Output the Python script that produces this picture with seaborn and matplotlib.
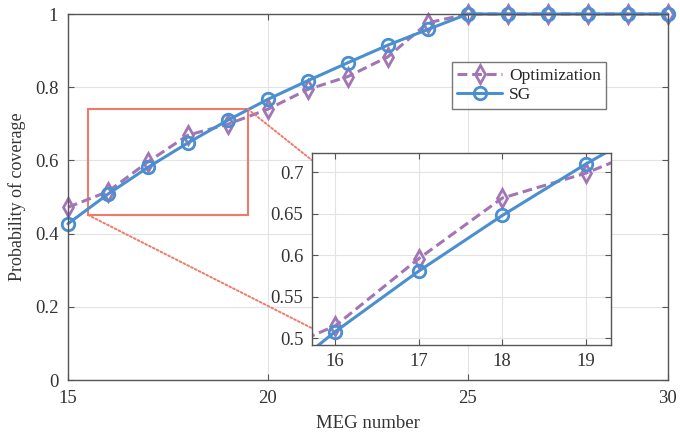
import numpy as np
import pandas as pd
import matplotlib
matplotlib.use("Agg")
import matplotlib.pyplot as plt
import seaborn as sns
from matplotlib.patches import Rectangle, ConnectionPatch

meg = [15, 16, 17, 18, 19, 20, 21, 22, 23, 24, 25, 26, 27, 28, 29, 30]
optimization = [0.472, 0.515, 0.596, 0.669, 0.699, 0.740, 0.794, 0.829, 0.883, 0.976,
                1.0, 1.0, 1.0, 1.0, 1.0, 1.0]
sg = [0.427, 0.508, 0.581, 0.648, 0.710, 0.767, 0.818, 0.867, 0.915, 0.958,
      1.0, 1.0, 1.0, 1.0, 1.0, 1.0]
series_names = ["Optimization", "SG"]
x_ticks = [15, 20, 25, 30]
y_ticks = [0, 0.2, 0.4, 0.6, 0.8, 1.0]
inset_x_ticks = [16, 17, 18, 19]
inset_y_ticks = [0.5, 0.55, 0.6, 0.65, 0.7]

sns.set_theme(style="whitegrid")
plt.rcParams["font.family"] = ["Liberation Serif", "DejaVu Serif"]

purple = "#A275B5"
blue = "#4A8FD0"
red = "#F07A6A"

fig = plt.figure(figsize=(6.8, 4.38), dpi=100)
ax = fig.add_axes([0.1, 0.1324, 0.882, 0.8356])

def draw(a, ms, lw, clip):
    sns.lineplot(x=meg, y=optimization, ax=a, color=purple, lw=lw, marker="d",
                 markersize=ms, markerfacecolor="none", markeredgecolor=purple,
                 markeredgewidth=2.0, label=series_names[0], clip_on=clip)
    a.lines[-1].set_linestyle((0, (3.2, 1.6)))
    sns.lineplot(x=meg, y=sg, ax=a, color=blue, lw=lw, marker="o",
                 markersize=ms, markerfacecolor="none", markeredgecolor=blue,
                 markeredgewidth=2.0, label=series_names[1], clip_on=clip)

def style_axes(a, fs, pad):
    a.set_facecolor("white")
    for s in a.spines.values():
        s.set_color("#555555")
        s.set_linewidth(1.0)
        s.set_visible(True)
    a.grid(True, color="#E3E3E3", lw=0.8)
    a.tick_params(direction="in", length=4, width=0.8, colors="#555555",
                  labelcolor="#333333", labelsize=fs, top=True, right=True,
                  bottom=True, left=True, pad=pad)

draw(ax, 9, 2.2, False)
ax.set_xlim(15, 30)
ax.set_ylim(0, 1)
ax.set_xticks(x_ticks)
ax.set_yticks(y_ticks)
ax.set_yticklabels(["0", "0.2", "0.4", "0.6", "0.8", "1"])
style_axes(ax, 13.5, 7)
ax.set_xlabel("MEG number", fontsize=13.5, color="#333333", labelpad=6)
ax.set_ylabel("Probability of coverage", fontsize=13, color="#333333", labelpad=6)

leg = ax.legend(loc="upper left", bbox_to_anchor=(0.64, 0.868), fontsize=12.5,
                frameon=True, fancybox=False, edgecolor="#555555",
                handlelength=2.6, borderpad=0.3, labelspacing=0.2,
                handletextpad=0.4, borderaxespad=0)
leg.get_frame().set_linewidth(1.0)
leg.set_zorder(10)

rect = Rectangle((15.5, 0.451), 4.0, 0.289, fill=False, edgecolor=red, lw=1.5, zorder=1.5)
ax.add_patch(rect)

ax_in = fig.add_axes([0.4584, 0.2123, 0.440, 0.439])
draw(ax_in, 9, 2.2, True)
ax_in.get_legend().remove()
ax_in.set_xlim(15.72, 19.3)
ax_in.set_ylim(0.492, 0.7236)
ax_in.set_xticks(inset_x_ticks)
ax_in.set_yticks(inset_y_ticks)
ax_in.set_yticklabels(["0.5", "0.55", "0.6", "0.65", "0.7"])
style_axes(ax_in, 13.5, 6)
ax_in.set_xlabel("")
ax_in.set_ylabel("")
ax_in.set_zorder(3)

for (xa, ya), (xb, yb) in [((19.5, 0.74), (0, 0.962)), ((15.5, 0.451), (0, 0.088))]:
    con = ConnectionPatch(xyA=(xa, ya), coordsA=ax.transData,
                          xyB=(xb, yb), coordsB=ax_in.transAxes,
                          color=red, lw=1.4, linestyle=(0, (1, 1.2)), zorder=2)
    fig.add_artist(con)

fig.savefig("out.png", dpi=100)
